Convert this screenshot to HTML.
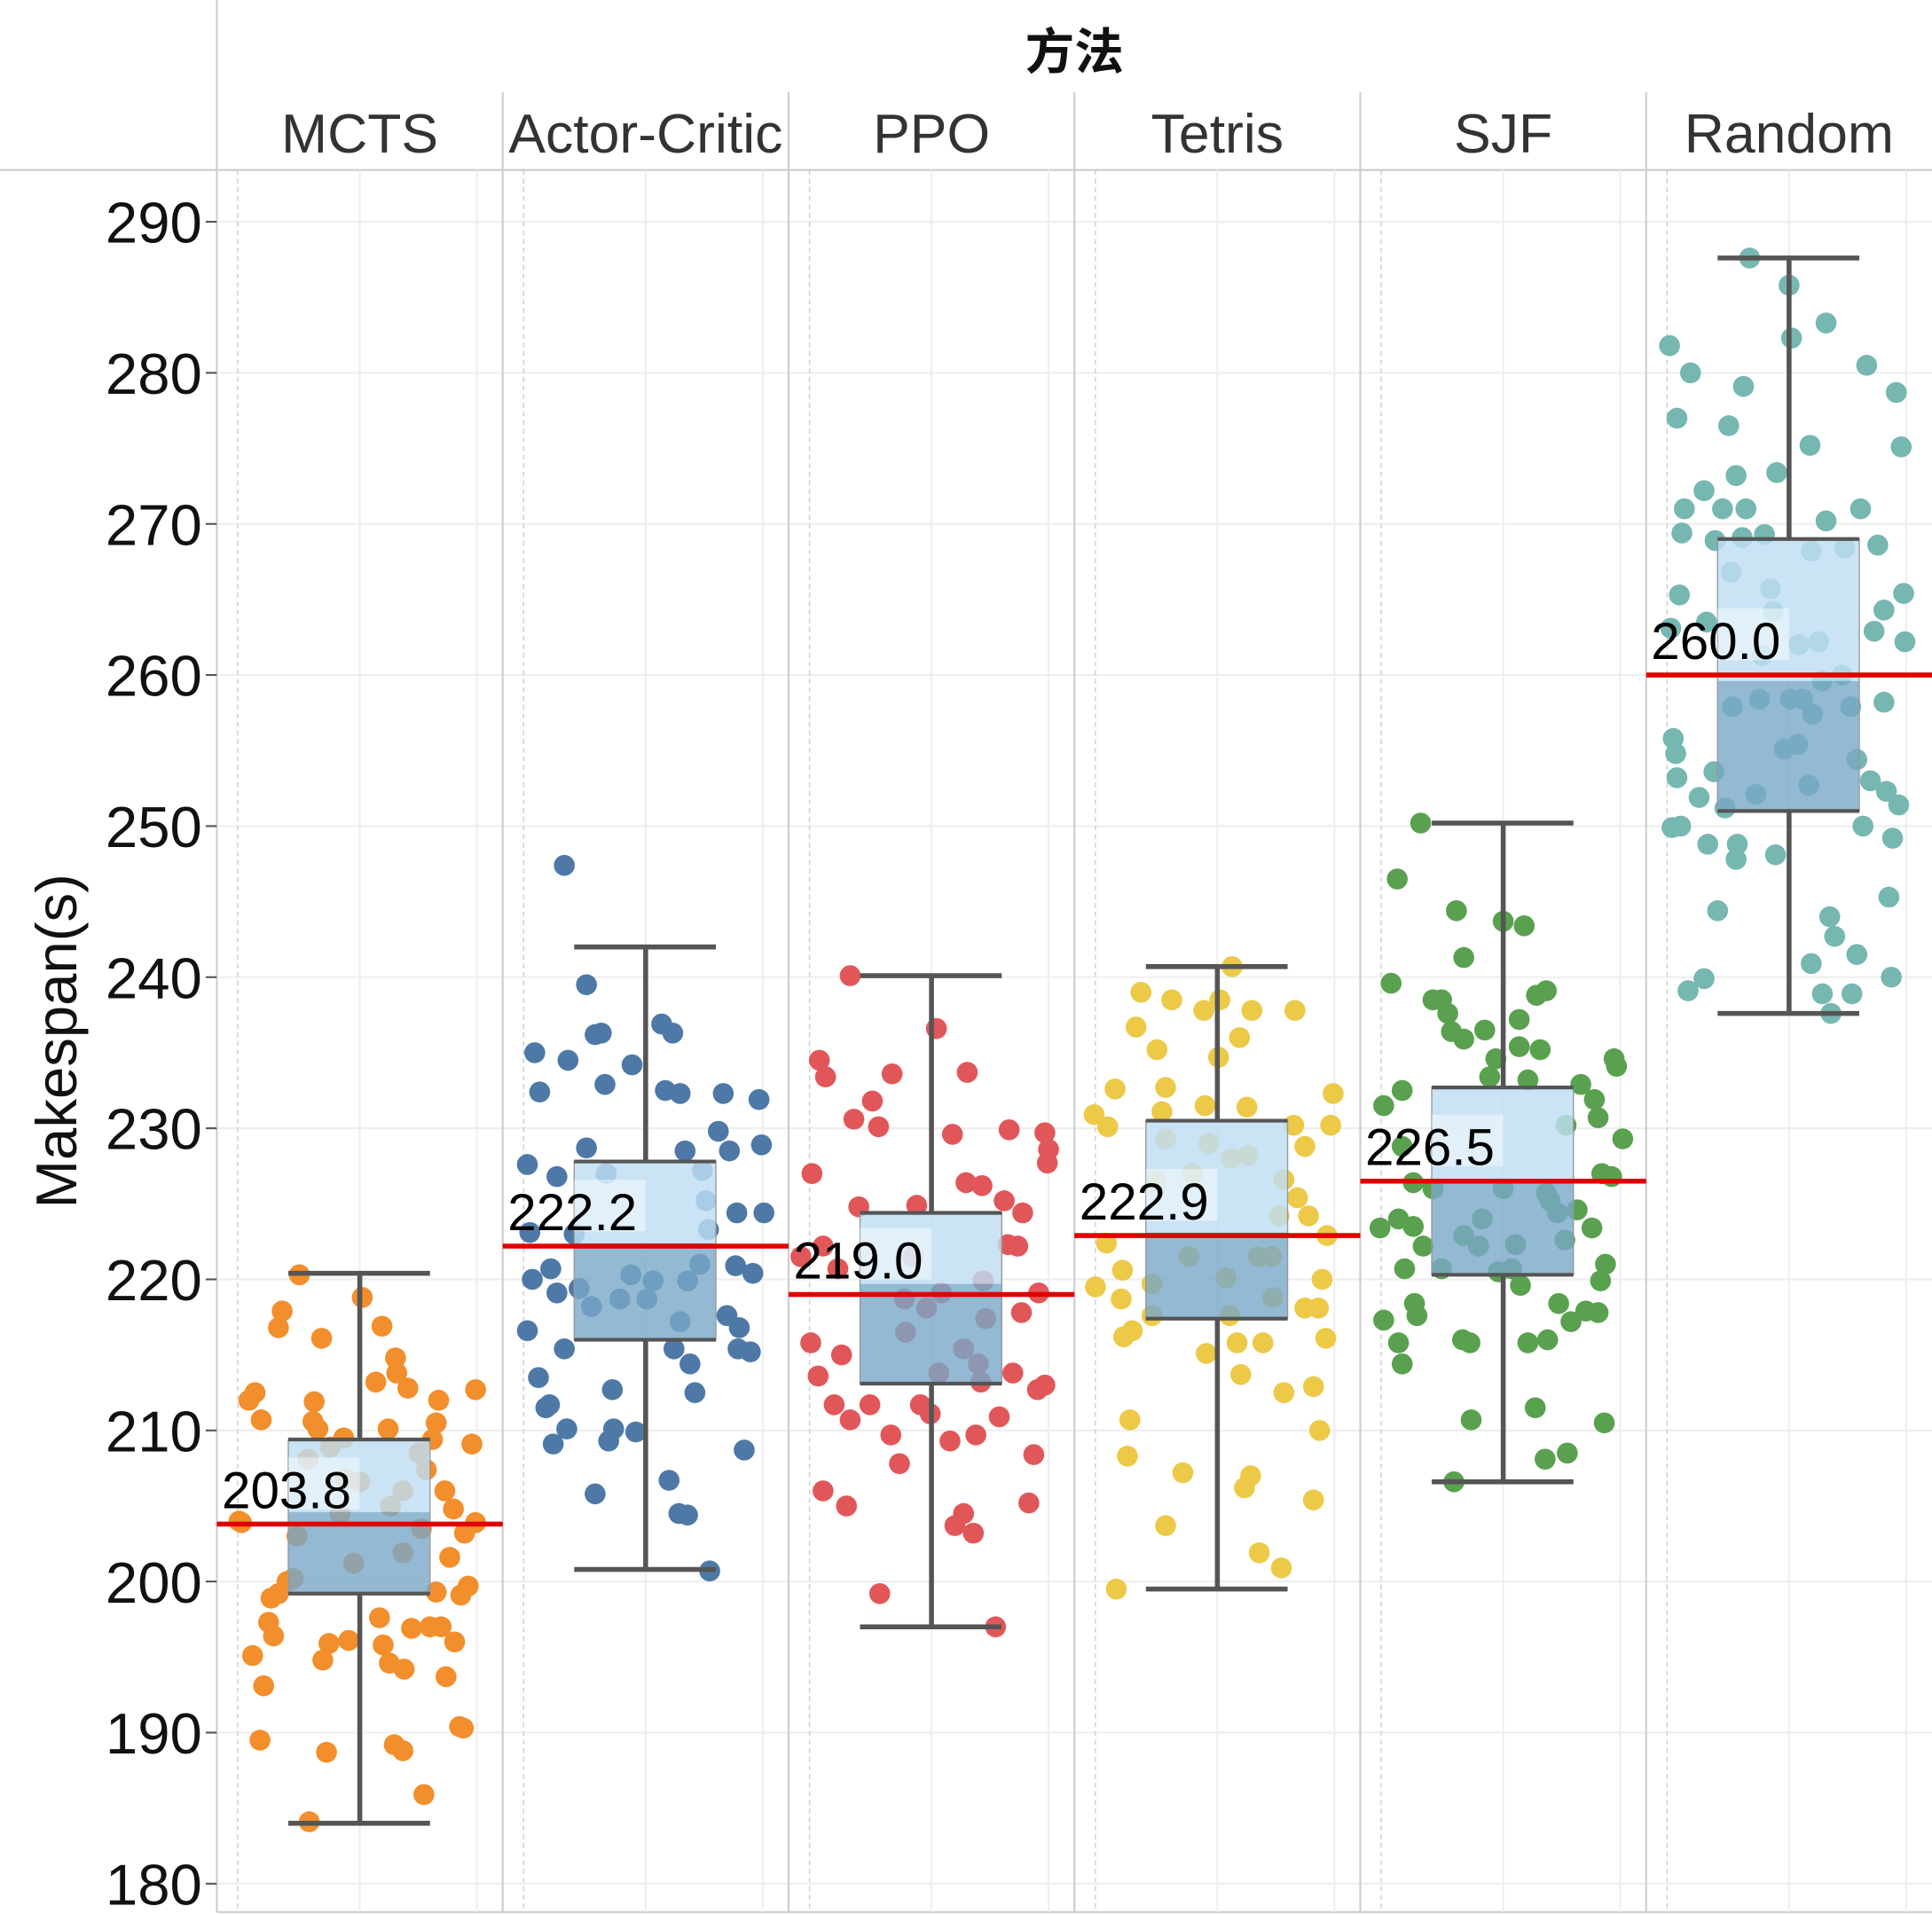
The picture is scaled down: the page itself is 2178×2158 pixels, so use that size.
<!DOCTYPE html>
<html><head><meta charset="utf-8"><style>
html,body{margin:0;padding:0;background:#fff;}
svg{display:block;font-family:"Liberation Sans","Noto Sans CJK SC",sans-serif;}
</style></head><body>
<svg id="chart" xmlns="http://www.w3.org/2000/svg" width="2178" height="2158" viewBox="0 0 1568 1553.6" preserveAspectRatio="none"></svg>
<script>
const categories=["MCTS","Actor-Critic","PPO","Tetris","SJF","Random"];
const colors=["#f28e2b","#4e79a7","#e15759","#edc948","#59a14f","#76b7b2"];
const yTicks=[180,190,200,210,220,230,240,250,260,270,280,290];
const means=[203.8,222.2,219.0,222.9,226.5,260.0];
const medians=[204.6,222.4,219.7,223.1,226.6,259.6];
const q1s=[199.2,216.0,213.1,217.4,220.3,251.0];
const q3s=[209.4,227.8,224.4,230.5,232.7,269.0];
const whiskLo=[184.0,200.8,197.0,199.5,206.6,237.6];
const whiskHi=[220.4,242.0,240.1,240.7,250.2,287.6];

const mctsVals=[220.3,217.9,216.8,216.1,218.8,216.9,214.8,213.8,213.2,212.8,212.0,212.7,212.5,212.0,211.9,210.7,210.6,210.1,210.1,210.5,209.4,209.1,209.5,208.9,208.5,207.4,208.1,206.8,206.6,206.0,206.0,204.8,203.9,204.0,203.9,203.2,203.0,203.5,204.5,205.0,201.9,201.6,201.2,200.2,200.0,199.3,199.7,199.1,199.2,198.9,197.6,196.9,197.0,197.0,197.3,196.4,195.9,196.1,196.0,195.8,195.1,194.8,194.6,194.2,193.7,193.1,190.4,190.3,189.5,189.2,188.8,188.7,185.9,184.1];
const mctsJit=[67,53,50,85,118,134,145,146,129,155,180,210,31,26,79,36,78,82,139,178,175,207,103,92,164,170,74,104,116,151,185,192,20,18,210,201,65,166,100,141,151,189,111,62,57,178,204,198,50,44,132,158,173,182,42,46,91,107,193,135,29,86,140,152,186,38,197,200,35,144,151,89,168,75];
const acVals=[247.4,239.5,235.0,234.5,236.2,236.3,236.9,236.3,234.2,232.4,232.9,232.5,232.3,232.3,231.9,229.8,228.5,228.9,228.5,228.7,227.6,226.8,227.0,227.2,225.2,223.3,224.4,224.4,223.1,223.0,220.7,220.0,220.3,219.9,219.9,221.0,220.9,220.4,219.1,219.4,218.2,218.7,218.7,217.2,217.6,216.8,216.6,215.4,215.4,215.4,215.2,214.4,213.5,212.7,212.5,211.7,211.5,210.1,210.1,209.9,209.3,209.1,208.7,206.7,205.8,204.5,204.4,200.7];
const acJit=[50,68,26,53,75,80,129,138,105,30,83,132,144,179,208,175,184,210,148,68,20,44,84,162,165,167,190,212,22,58,39,24,104,122,150,160,189,203,44,62,72,95,117,144,182,192,20,50,139,191,201,152,29,89,156,38,35,52,90,108,86,41,196,135,75,143,150,168];
const ppoVals=[240.1,234.5,233.4,233.6,231.8,230.6,230.1,233.7,229.6,229.9,229.7,228.6,227.7,227.0,236.6,226.2,226.4,225.2,224.4,224.8,224.9,222.3,222.2,222.2,221.5,220.7,221.5,219.9,219.1,219.1,218.7,217.4,217.8,218.1,215.8,215.0,216.5,215.4,214.4,213.8,213.8,213.6,213.0,212.7,213.2,211.7,211.7,211.7,210.7,211.1,210.9,209.3,209.7,209.7,207.8,208.4,206.0,205.0,205.2,204.5,203.7,203.2,199.2,197.0];
const ppoJit=[50,25,30,84,68,53,73,145,133,179,208,211,210,19,120,157,144,175,190,57,104,178,186,28,10,40,101,158,203,124,94,160,189,112,18,43,95,142,154,122,182,24,208,202,156,37,66,107,50,115,171,131,152,83,90,199,28,47,195,142,135,150,74,168];
const tetrisVals=[240.7,239.0,238.5,238.5,237.8,237.8,237.8,236.7,236.0,235.2,234.7,232.6,232.7,232.3,230.9,230.1,231.1,231.5,231.4,230.2,230.2,228.8,229.3,228.0,228.2,229.0,226.5,227.0,226.6,225.4,224.2,224.2,222.9,222.4,220.6,220.0,221.5,221.5,221.5,220.1,219.7,219.5,218.7,218.8,218.1,218.1,217.6,217.6,216.6,216.2,216.1,215.8,215.8,215.1,213.7,212.9,212.5,210.7,210.0,208.3,207.2,207.0,206.2,205.4,203.7,201.9,200.9,199.5];
const tetrisJit=[128,54,79,118,105,144,179,50,134,67,117,33,74,210,16,27,71,106,140,178,208,187,74,127,141,109,66,96,170,181,190,166,205,26,39,201,93,149,160,123,63,17,38,161,187,198,63,126,47,40,204,132,153,107,135,194,170,45,199,43,88,143,138,194,74,150,168,34];
const sjfVals=[250.2,246.5,244.4,243.7,243.4,239.6,241.3,238.5,238.5,237.6,238.8,239.1,237.2,236.4,235.9,236.5,235.4,235.2,234.6,234.6,234.1,233.2,232.9,232.5,231.9,231.5,230.7,230.2,233.4,229.3,228.8,227.0,226.8,226.4,226.0,226.0,225.7,224.6,224.0,224.0,225.2,224.4,223.4,223.5,222.9,223.4,222.6,222.2,222.2,222.3,221.0,220.7,220.7,220.5,220.7,219.9,219.6,217.3,218.4,217.6,218.4,217.2,217.8,217.9,215.8,216.0,215.8,215.8,216.0,214.4,211.5,210.7,210.5,208.5,208.1,206.6];
const sjfJit=[49,30,78,116,133,25,84,59,66,71,143,151,129,74,84,101,129,146,110,206,208,136,179,34,190,19,193,167,105,213,34,196,204,43,59,116,151,176,31,99,154,160,16,43,84,188,166,51,96,126,199,36,66,112,123,195,130,19,44,46,161,171,193,183,31,83,89,136,152,34,142,90,198,168,150,76];
const randomVals=[287.6,285.8,283.3,282.3,281.8,280.5,280.0,279.1,278.7,277.0,276.5,275.1,275.2,272.2,273.2,273.4,271.0,271.0,271.0,271.0,270.2,269.4,269.1,269.3,268.9,268.6,268.4,268.2,266.8,265.7,265.4,265.3,264.3,263.5,264.2,263.1,262.2,262.9,262.2,262.0,261.3,260.0,259.6,258.4,258.4,257.9,258.4,257.4,258.2,257.9,255.8,254.8,255.1,255.4,254.4,253.6,253.2,253.0,251.9,252.1,252.7,252.3,251.4,251.2,249.9,250.0,250.0,249.2,248.8,248.8,247.8,248.1,245.3,244.4,244.0,242.7,241.5,240.9,239.9,240.0,239.1,238.9,238.9,237.6];
const randomJit=[84,116,146,118,19,179,36,79,203,25,67,207,133,47,73,106,31,62,81,174,146,29,78,96,56,188,161,134,69,101,209,27,193,49,103,20,210,185,140,124,94,159,143,92,117,70,127,135,193,166,22,24,112,123,171,55,25,182,43,89,132,195,205,64,21,28,176,200,50,74,73,105,197,58,149,153,171,134,47,199,34,143,167,150];

const seriesVals=[mctsVals,acVals,ppoVals,tetrisVals,sjfVals,randomVals];
const seriesJit=[mctsJit,acJit,ppoJit,tetrisJit,sjfJit,randomJit];

const NS="http://www.w3.org/2000/svg";
const svg=document.getElementById('chart');
const plotL=176, bandW=232, plotTop=138, plotBot=1552;
const yMin=180, yMax=290, y180=1529, y290=180;
function yScale(v){return y180-(v-yMin)*(y180-y290)/(yMax-yMin);}
function xBand(i){return plotL+i*bandW;}
function mk(tag,attrs,parent){const e=document.createElementNS(NS,tag);for(const k in attrs)e.setAttribute(k,attrs[k]);(parent||svg).appendChild(e);return e;}

let t=mk('text',{x:872,y:56,'text-anchor':'middle','font-size':40,'font-weight':'bold',fill:'#111'});
t.textContent='方法';


mk('line',{x1:176,y1:0,x2:176,y2:plotBot,stroke:'#ccc','stroke-width':1.5});
mk('line',{x1:0,y1:plotTop,x2:1568,y2:plotTop,stroke:'#ccc','stroke-width':1.5});
mk('line',{x1:176,y1:plotBot,x2:1568,y2:plotBot,stroke:'#ccc','stroke-width':1.5});

yTicks.forEach(v=>{
  const y=yScale(v);
  mk('line',{x1:plotL,y1:y,x2:1568,y2:y,stroke:'#eee','stroke-width':1.5});
  mk('line',{x1:167,y1:y,x2:176,y2:y,stroke:'#555','stroke-width':1.5});
  const lb=mk('text',{x:164,y:y+17,'text-anchor':'end','font-size':47,fill:'#111'});
  lb.textContent=v;
  
  
});
const yt=mk('text',{x:0,y:0,'text-anchor':'middle','font-size':47,fill:'#111',transform:'translate(62,845) rotate(-90)'});
yt.textContent='Makespan(s)';



categories.forEach((c,i)=>{
  const x0=xBand(i);
  if(i>0) mk('line',{x1:x0,y1:75,x2:x0,y2:plotBot,stroke:'#ccc','stroke-width':1.5});
  mk('line',{x1:x0+17,y1:plotTop,x2:x0+17,y2:plotBot,stroke:'#ccc','stroke-width':1,'stroke-dasharray':'4,3'});
  mk('line',{x1:x0+116,y1:plotTop,x2:x0+116,y2:plotBot,stroke:'#eee','stroke-width':1.5});
  mk('line',{x1:x0+211,y1:plotTop,x2:x0+211,y2:plotBot,stroke:'#eee','stroke-width':1.5});
  const hl=mk('text',{x:x0+116,y:124,'text-anchor':'middle','font-size':45,fill:'#333'});
  hl.textContent=c;
  
  
});

categories.forEach((c,i)=>{
  const x0=xBand(i);
  const g=mk('g',{});
  
  
  const vals=seriesVals[i], jit=seriesJit[i];
  const n=Math.min(vals.length,jit.length);
  for(let k=0;k<n;k++){
    const p=mk('circle',{cx:x0+jit[k]/232*bandW,cy:yScale(vals[k]),r:8.5,fill:colors[i]},g);
    
    
  }
  const bx=x0+58, bw=115, cx=x0+116;
  mk('line',{x1:cx,y1:yScale(whiskHi[i]),x2:cx,y2:yScale(q3s[i]),stroke:'#555','stroke-width':4},g);
  mk('line',{x1:cx,y1:yScale(q1s[i]),x2:cx,y2:yScale(whiskLo[i]),stroke:'#555','stroke-width':4},g);
  mk('line',{x1:bx,y1:yScale(whiskHi[i]),x2:bx+bw,y2:yScale(whiskHi[i]),stroke:'#555','stroke-width':4},g);
  mk('line',{x1:bx,y1:yScale(whiskLo[i]),x2:bx+bw,y2:yScale(whiskLo[i]),stroke:'#555','stroke-width':4},g);
  const up=mk('rect',{x:bx,y:yScale(q3s[i]),width:bw,height:yScale(medians[i])-yScale(q3s[i]),fill:'rgb(190,222,244)','fill-opacity':0.82},g);
  
  
  const lo=mk('rect',{x:bx,y:yScale(medians[i]),width:bw,height:yScale(q1s[i])-yScale(medians[i]),fill:'rgb(120,168,200)','fill-opacity':0.8},g);
  
  
  mk('rect',{x:bx,y:yScale(q3s[i]),width:bw,height:yScale(q1s[i])-yScale(q3s[i]),fill:'none',stroke:'#999','stroke-width':1},g);
  mk('line',{x1:bx,y1:yScale(q3s[i]),x2:bx+bw,y2:yScale(q3s[i]),stroke:'#555','stroke-width':3},g);
  mk('line',{x1:bx,y1:yScale(q1s[i]),x2:bx+bw,y2:yScale(q1s[i]),stroke:'#555','stroke-width':3},g);
  const my=yScale(means[i]);
  mk('rect',{x:bx,y:my-54,width:58,height:42,fill:'#fff','fill-opacity':0.45},g);
  const ml=mk('line',{x1:x0,y1:my,x2:x0+bandW,y2:my,stroke:'#e00000','stroke-width':4},g);
  
  
  const lt=mk('text',{x:x0+4,y:my-13,'font-size':42,fill:'#000'},g);
  lt.textContent=means[i].toFixed(1);
  
  
});
</script>
</body></html>
